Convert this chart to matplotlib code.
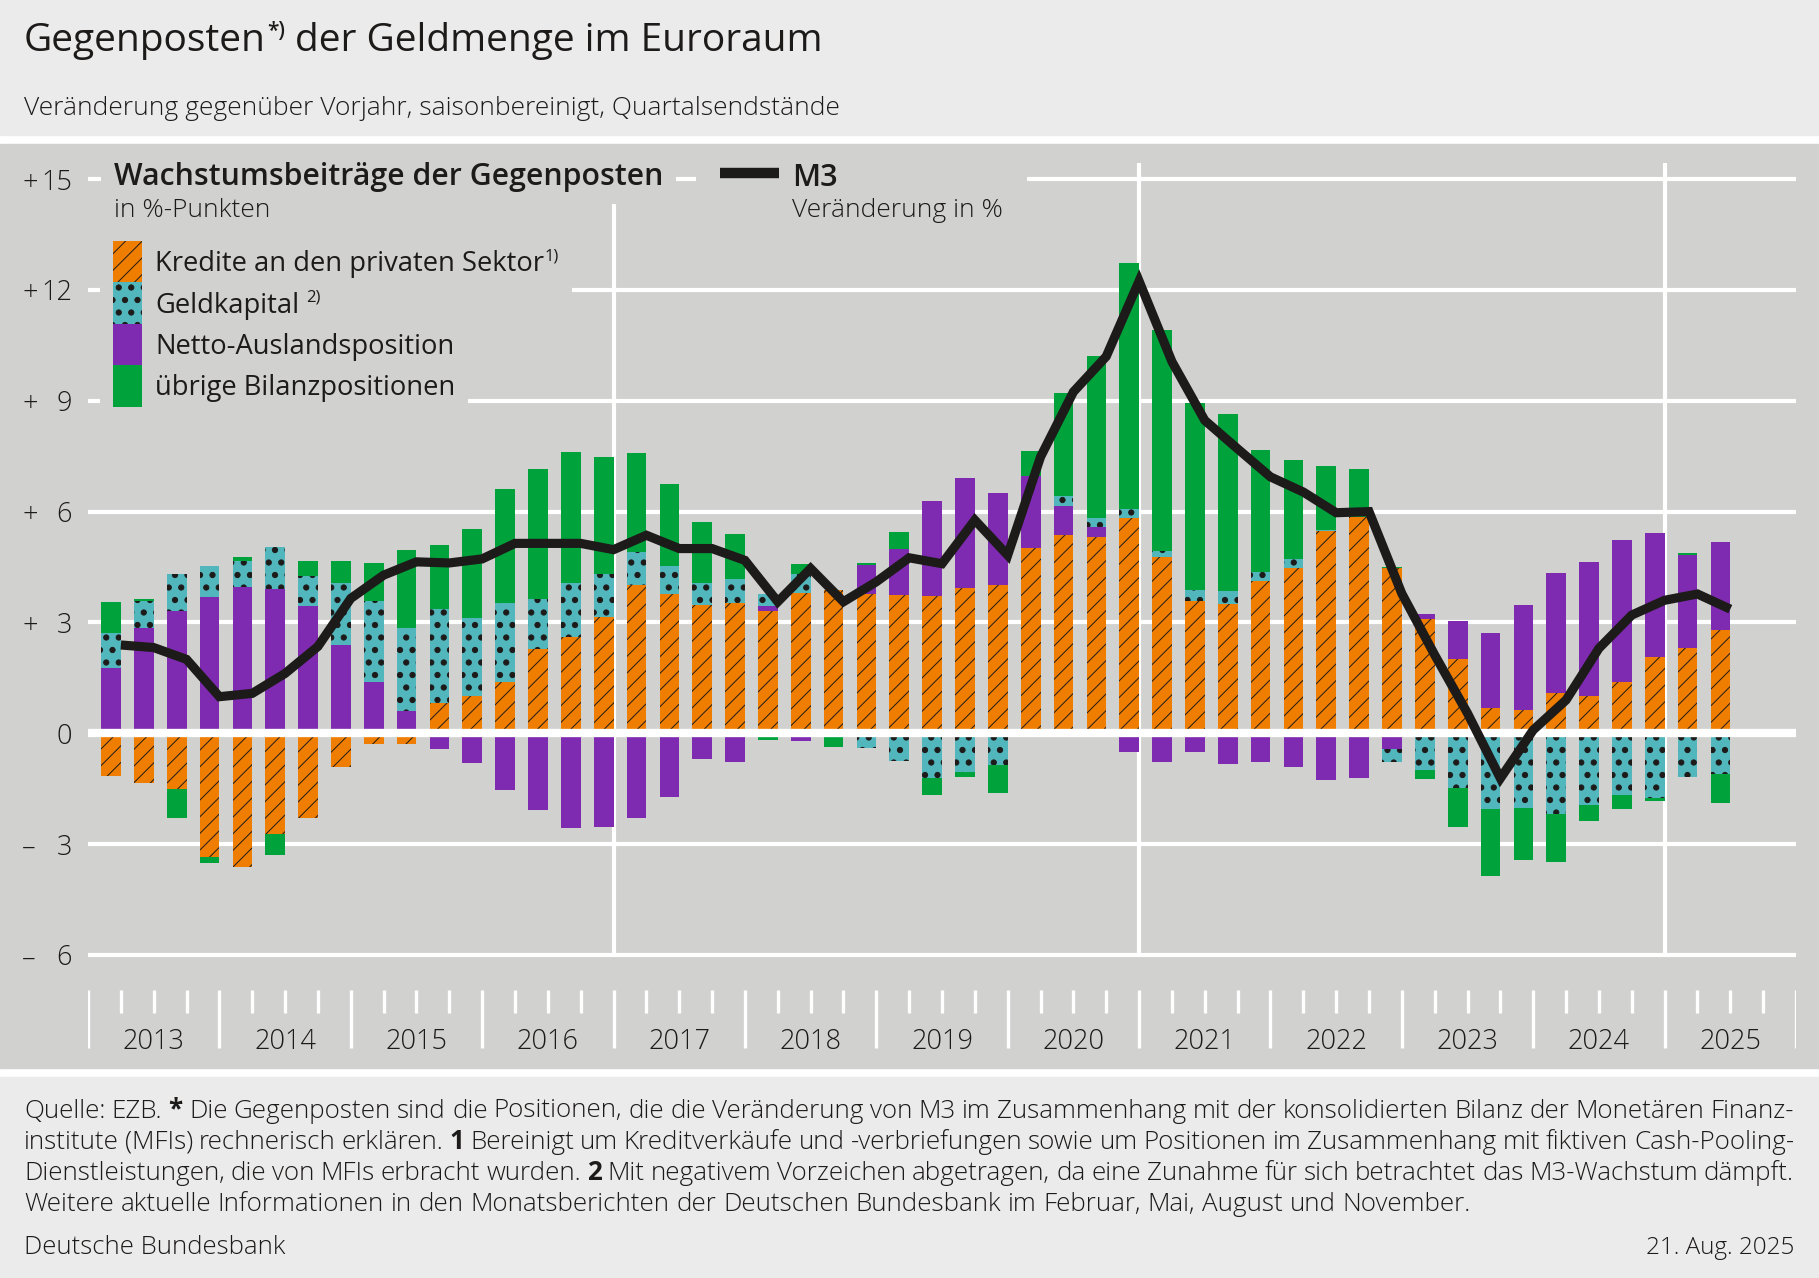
import numpy as np
import matplotlib
matplotlib.use('Agg')
import matplotlib.pyplot as plt
import matplotlib.hatch as mhatch
from matplotlib.patches import Rectangle
from matplotlib.lines import Line2D
from matplotlib.transforms import Affine2D, Bbox, IdentityTransform, blended_transform_factory

W, H = 1819, 1278

# --- data: contributions in %-points, quarter ends 2013 Q1 .. 2025 Q2 ---
years = list(range(2013, 2026))
kredite = [-1.16, -1.34, -1.51, -3.35, -3.62, -2.72, -2.28, -0.90,
           -0.30, -0.28, 0.82, 1.01, 1.38, 2.27, 2.60, 3.14,
           4.01, 3.76, 3.47, 3.52, 3.31, 3.81, 3.89, 3.77,
           3.74, 3.72, 3.94, 4.01, 5.01, 5.38, 5.32, 5.83,
           4.77, 3.59, 3.50, 4.11, 4.48, 5.47, 5.86, 4.48,
           3.09, 2.00, 0.68, 0.64, 1.09, 1.00, 1.39, 2.06,
           2.30, 2.80]
netto_ausland = [1.77, 2.84, 3.32, 3.70, 3.95, 3.90, 3.44, 2.39,
                 1.40, 0.59, -0.43, -0.81, -1.54, -2.08, -2.56, -2.53,
                 -2.29, -1.73, -0.69, -0.77, 0.13, -0.21, 0.00, 0.79,
                 1.25, 2.57, 2.96, 2.49, 1.96, 0.77, 0.27, -0.51,
                 -0.79, -0.50, -0.84, -0.77, -0.90, -1.27, -1.22, -0.43,
                 0.13, 1.04, 2.03, 2.83, 3.26, 3.63, 3.85, 3.35,
                 2.52, 2.39]
geldkapital = [0.95, 0.75, 1.00, 0.82, 0.71, 1.13, 0.81, 1.69,
               2.19, 2.27, 2.54, 2.11, 2.14, 1.37, 1.48, 1.16,
               0.89, 0.77, 0.59, 0.66, 0.34, 0.51, 0.00, -0.41,
               -0.75, -1.20, -1.05, -0.86, -0.10, 0.28, 0.24, 0.25,
               0.16, 0.28, 0.34, 0.26, 0.23, 0.04, 0.00, -0.34,
               -0.99, -1.48, -2.05, -2.01, -2.18, -1.93, -1.67, -1.74,
               -1.17, -1.09]
uebrige = [0.84, 0.04, -0.77, -0.16, 0.11, -0.58, 0.41, 0.57,
           1.03, 2.09, 1.73, 2.42, 3.10, 3.50, 3.53, 3.19,
           2.69, 2.21, 1.66, 1.22, -0.18, 0.27, -0.36, 0.06,
           0.45, -0.48, -0.13, -0.77, 0.66, 2.79, 4.38, 6.66,
           5.98, 5.07, 4.80, 3.29, 2.69, 1.72, 1.29, 0.02,
           -0.24, -1.06, -1.80, -1.41, -1.31, -0.45, -0.38, -0.08,
           0.05, -0.80]
m3 = [2.39, 2.32, 2.00, 0.99, 1.08, 1.62, 2.35, 3.65,
      4.28, 4.64, 4.61, 4.72, 5.14, 5.14, 5.14, 4.97,
      5.36, 5.00, 5.00, 4.68, 3.56, 4.46, 3.56, 4.10,
      4.75, 4.59, 5.77, 4.82, 7.48, 9.24, 10.20, 12.24,
      10.06, 8.47, 7.70, 6.94, 6.53, 5.97, 6.00, 3.78,
      2.12, 0.54, -1.22, 0.09, 0.90, 2.30, 3.20, 3.60,
      3.77, 3.36]
y_ticks = [-6, -3, 0, 3, 6, 9, 12, 15]

BG_LIGHT = '#ebebeb'
PANEL = '#d1d1cf'
DARK = '#1d1b1a'
ORANGE = '#ef7d00'
CYAN = '#52b7bd'
PURPLE = '#7f2bb1'
GREEN = '#00a23b'


# bigger, denser filled dots for the '.' hatch
class BigDots(mhatch.Circles):
    size = 0.21
    filled = True

    def __init__(self, hatch, density):
        self.num_rows = hatch.count('.') * 8
        super().__init__(hatch, density)


mhatch._hatch_types = [BigDots if t is mhatch.SmallFilledCircles else t
                       for t in mhatch._hatch_types]

plt.rcParams['font.family'] = ['Open Sans', 'DejaVu Sans']
plt.rcParams['hatch.linewidth'] = 0.7

fig = plt.figure(figsize=(W / 100, H / 100), dpi=100, facecolor='white')
px = Affine2D().scale(1, -1).translate(0, H)   # picture pixels, origin top left
renderer = fig.canvas.get_renderer()

for y0, y1, c in [(0, 135, BG_LIGHT), (144, 1068, PANEL), (1077, H, BG_LIGHT)]:
    fig.add_artist(Rectangle((0, y0), W, y1 - y0, transform=px, color=c, zorder=-5))

ax = fig.add_axes([88 / W, 1 - 1068 / H, (1796 - 88) / W, (1068 - 144) / H])
ax.set_xlim(0, 52)
ax.set_ylim(-9.06, 15.95)
ax.axis('off')

n = len(m3)
x = np.arange(1, n + 1)          # bars and line sit at the quarter ends
n_q = len(years) * 4

grid = np.array(y_ticks)
ax.hlines(grid[grid != 0], 0, n_q, color='white', lw=3, zorder=1)
ax.vlines(np.arange(16, n_q, 16), -6, 15.44, color='white', lw=3, zorder=1)
ax.hlines(0, 0, n_q, color='white', lw=6, zorder=4)

# x axis ticks and year labels
q = np.arange(0, n_q + 1)
ax.vlines(q[q % 4 == 0], -8.52, -6.95, color='white', lw=2.4)
ax.vlines(q[q % 4 != 0], -7.57, -6.95, color='white', lw=2.4)
for i, yr in enumerate(years):
    ax.text(4 * i + 2, -8.55, str(yr), ha='center', va='baseline',
            fontsize=19.5, fontweight='light', color=DARK)

# y tick labels
ylab = blended_transform_factory(px, ax.transData)
for v in y_ticks:
    if v != 0:
        ax.text(22, v, '+' if v > 0 else '\u2013', transform=ylab, ha='left',
                va='center_baseline', fontsize=19.5, fontweight='light', color=DARK)
    ax.text(72, v, str(abs(v)), transform=ylab, ha='right',
            va='center_baseline', fontsize=19.5, fontweight='light', color=DARK)

# stacked bars, positive and negative parts stacked separately
series = [(kredite, ORANGE, '//'), (netto_ausland, PURPLE, None),
          (geldkapital, CYAN, '.'), (uebrige, GREEN, None)]
pos = np.zeros(n)
neg = np.zeros(n)
for vals, col, hat in series:
    vals = np.array(vals)
    bottom = np.where(vals >= 0, pos, neg)
    ax.bar(x, vals, width=-0.6, align='edge', bottom=bottom, color=col,
           edgecolor=DARK, linewidth=0, hatch=hat, zorder=2)
    pos += np.clip(vals, 0, None)
    neg += np.clip(vals, None, 0)

ax.plot(x, m3, color=DARK, lw=6.6, zorder=6, solid_joinstyle='miter',
        solid_capstyle='butt')


# --- text helpers (picture pixel coordinates) ---
def put(x0, y0, s, size, weight='normal', **kw):
    return fig.text(x0, y0, s, transform=px, fontsize=size, fontweight=weight,
                    color=DARK, zorder=5, **kw)


def width(t):
    return t.get_window_extent(renderer).width


def space_w(size, weight='normal'):
    a, b = put(0, 0, 'n n', size, weight), put(0, 0, 'nn', size, weight)
    w = width(a) - width(b)
    a.remove()
    b.remove()
    return w


def after(t, s, size, weight='normal', gap=0, y0=None, rise=0):
    x0, ty = t.get_position()
    return put(x0 + width(t) + gap, (ty if y0 is None else y0) - rise, s, size, weight)


def line_of_words(x0, y0, parts, size, justify=None):
    words = [(w, wt) for s, wt in parts for w in s.split(' ')]
    arts = [put(0, y0, w, size, wt) for w, wt in words]
    ws = [width(a) for a in arts]
    gap = space_w(size, 'light')
    if justify:
        gap = max((justify - sum(ws)) / (len(ws) - 1), 0.75 * gap)
    for a, w in zip(arts, ws):
        a.set_x(x0)
        x0 += w + gap
    return arts


def mask(artists, padx, pady):
    bb = Bbox.union([a.get_window_extent(renderer) for a in artists])
    fig.add_artist(Rectangle((bb.x0 - padx, bb.y0 - pady), bb.width + 2 * padx,
                             bb.height + 2 * pady, transform=IdentityTransform(),
                             color=PANEL, lw=0, zorder=2))


# header
t = put(24, 51.5, 'Gegenposten', 28, 'medium')
s = after(t, '*)', 15, 'semibold', gap=1, rise=14)
after(s, 'der Geldmenge im Euroraum', 28, 'medium', gap=space_w(28, 'medium'), y0=51.5)
put(24, 115, 'Veränderung gegenüber Vorjahr, saisonbereinigt, Quartalsendstände',
    19, 'light')

# legend
head = put(113.5, 185, 'Wachstumsbeiträge der Gegenposten', 21.8, 'semibold')
put(113.5, 217, 'in %-Punkten', 19, 'light')
mask([head], 13, 12)

labels = [('Kredite an den privaten Sektor', '1)', 1, ORANGE, '//'),
          ('Geldkapital', '2)', space_w(19.7), CYAN, '.'),
          ('Netto-Auslandsposition', None, 0, PURPLE, None),
          ('übrige Bilanzpositionen', None, 0, GREEN, None)]
for i, (lab, sup, gap, col, hat) in enumerate(labels):
    sw = Rectangle((113, 241 + 41.4 * i), 29, 41.4, transform=px, facecolor=col,
                   edgecolor=DARK, lw=0, hatch=hat, zorder=3)
    fig.add_artist(sw)
    row = [sw, put(155, 271.5 + 41.2 * i, lab, 19.7, 'medium')]
    if sup:
        row.append(after(row[1], sup, 12, 'medium', gap=gap, rise=11))
    mask(row, 13, 13)

m3_sym = Line2D([720, 779], [173, 173], transform=px, color=DARK, lw=7.5,
                solid_capstyle='butt', zorder=5)
fig.add_artist(m3_sym)
m3_lab = put(792, 186, 'M3', 22, 'semibold')
m3_sub = put(792, 217, 'Veränderung in %', 19, 'light')
mask([m3_sym, m3_lab, m3_sub], 24, 10)

# footer
foot = [
    [('Quelle: EZB.', 'light'), ('*', 'bold'),
     ('Die Gegenposten sind die Positionen, die die Veränderung von M3 im Zusammenhang '
      'mit der konsolidierten Bilanz der Monetären Finanz-', 'light')],
    [('institute (MFIs) rechnerisch erklären.', 'light'), ('1', 'bold'),
     ('Bereinigt um Kreditverkäufe und -verbriefungen sowie um Positionen im '
      'Zusammenhang mit fiktiven Cash-Pooling-', 'light')],
    [('Dienstleistungen, die von MFIs erbracht wurden.', 'light'), ('2', 'bold'),
     ('Mit negativem Vorzeichen abgetragen, da eine Zunahme für sich betrachtet '
      'das M3-Wachstum dämpft.', 'light')],
    [('Weitere aktuelle Informationen in den Monatsberichten der Deutschen '
      'Bundesbank im Februar, Mai, August und November.', 'light')],
]
for i, parts in enumerate(foot):
    line_of_words(24, 1117.5 + 31.2 * i, parts, 18.7, justify=1770 if i < 3 else None)
put(24, 1254, 'Deutsche Bundesbank', 18.5, 'light')
put(1794, 1254, '21. Aug. 2025', 17.5, 'light', ha='right')

fig.savefig('out.png', dpi=100, facecolor=fig.get_facecolor())
